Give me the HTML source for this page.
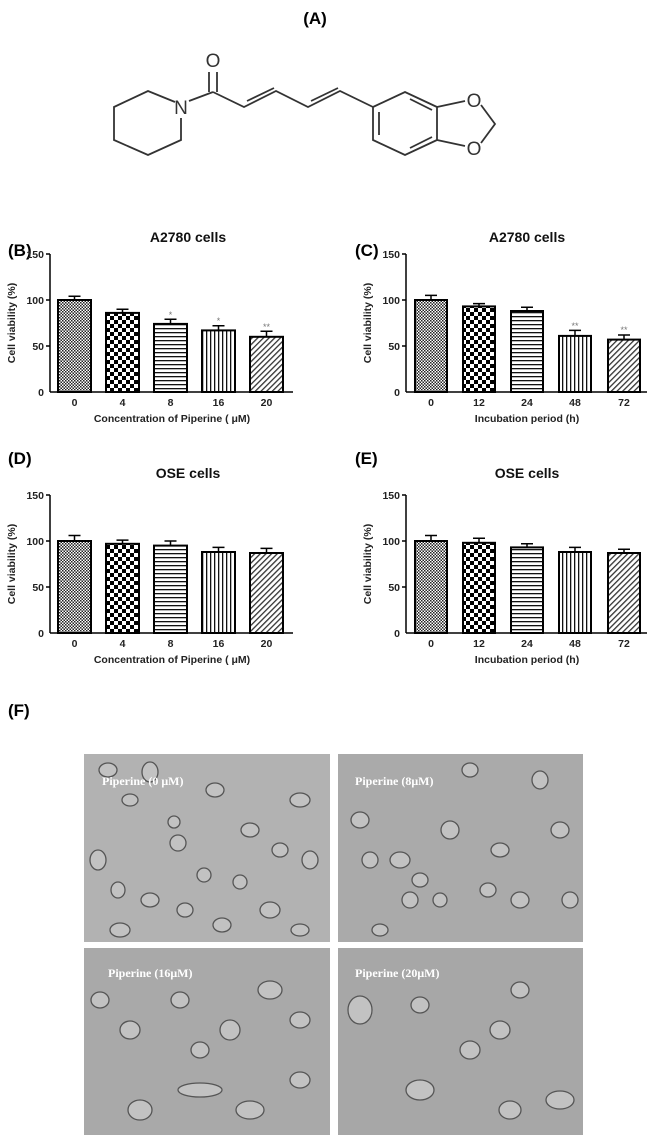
<!DOCTYPE html>
<html><head><meta charset="utf-8"><style>
html,body{margin:0;padding:0;background:#fff;}
svg{display:block;font-family:"Liberation Sans",Arial,sans-serif;}
.pl{font-weight:bold;font-size:17px;fill:#000}
.tt{font-weight:bold;font-size:14px;fill:#111;text-anchor:middle}
.tk{font-weight:bold;font-size:10.5px;fill:#222}
.ax{font-weight:bold;font-size:10.5px;fill:#222;text-anchor:middle}
.st{font-size:9px;fill:#777;text-anchor:middle}
.bar{stroke:#000;stroke-width:2}
.pt{fill:#fff;font-weight:bold;font-size:12px;font-family:"Liberation Serif",serif}
</style></head><body>
<svg width="649" height="1146" viewBox="0 0 649 1146" xmlns="http://www.w3.org/2000/svg">
<defs>
<pattern id="p0" width="3" height="3" patternUnits="userSpaceOnUse"><rect width="3" height="3" fill="#fff"/><rect width="1.5" height="1.5" fill="#222"/><rect x="1.5" y="1.5" width="1.5" height="1.5" fill="#222"/></pattern>
<pattern id="p1" width="8" height="8" patternUnits="userSpaceOnUse"><rect width="8" height="8" fill="#fff"/><rect width="4" height="4" fill="#000"/><rect x="4" y="4" width="4" height="4" fill="#000"/></pattern>
<pattern id="p2" width="4" height="4" patternUnits="userSpaceOnUse"><rect width="4" height="4" fill="#fff"/><rect width="4" height="1.3" fill="#111"/></pattern>
<pattern id="p3" width="4" height="4" patternUnits="userSpaceOnUse"><rect width="4" height="4" fill="#fff"/><rect width="1.3" height="4" fill="#111"/></pattern>
<pattern id="p4" width="4" height="4" patternUnits="userSpaceOnUse" patternTransform="rotate(45)"><rect width="4" height="4" fill="#fff"/><rect width="1.3" height="4" fill="#333"/></pattern>
</defs>

<!-- (A) molecule -->
<text x="315" y="24" class="pl" text-anchor="middle">(A)</text>
<g stroke="#333" stroke-width="1.8" fill="none">
<polyline points="175,102 148,91 114,107 114,140 148,155 181,140 181,118"/>
<line x1="189" y1="101" x2="213" y2="92"/>
<line x1="209" y1="92" x2="209" y2="72"/><line x1="217" y1="92" x2="217" y2="72"/>
<polyline points="213,92 244,107 276,91 308,107 340,91 373,107"/>
<line x1="247" y1="101" x2="274" y2="88"/>
<line x1="311" y1="101" x2="338" y2="88"/>
<polygon points="373,107 405,92 437,107 437,140 405,155 373,140"/>
<line x1="379" y1="112" x2="379" y2="135"/>
<line x1="410" y1="99" x2="432" y2="110"/>
<line x1="410" y1="148" x2="432" y2="137"/>
<line x1="437" y1="107" x2="465" y2="101"/>
<line x1="437" y1="140" x2="465" y2="146"/>
<polyline points="481,105 495,124 481,143"/>
</g>
<g font-size="19" fill="#333" text-anchor="middle">
<text x="181" y="114">N</text><text x="213" y="67">O</text>
<text x="474" y="107">O</text><text x="474" y="155">O</text>
</g>

<!-- Panel labels -->
<text x="8" y="256" class="pl">(B)</text>
<text x="355" y="256" class="pl">(C)</text>
<text x="8" y="464" class="pl">(D)</text>
<text x="355" y="464" class="pl">(E)</text>
<text x="8" y="716" class="pl">(F)</text>

<!-- Chart B -->
<g transform="translate(50,392)">
<text x="138" y="-150" class="tt">A2780 cells</text>
<g class="tk" text-anchor="end"><text x="-6" y="-134">150</text><text x="-6" y="-88">100</text><text x="-6" y="-42">50</text><text x="-6" y="4">0</text></g>
<g stroke="#000" stroke-width="1.5"><line x1="0" y1="-138" x2="0" y2="0"/><line x1="0" y1="0" x2="243" y2="0"/><line x1="-4" y1="-138" x2="0" y2="-138"/><line x1="-4" y1="-92" x2="0" y2="-92"/><line x1="-4" y1="-46" x2="0" y2="-46"/></g>
<rect class="bar" x="8" y="-92" width="33" height="92" fill="url(#p0)"/>
<rect class="bar" x="56" y="-79.1" width="33" height="79.1" fill="url(#p1)"/>
<rect class="bar" x="104" y="-68.1" width="33" height="68.1" fill="url(#p2)"/>
<rect class="bar" x="152" y="-61.6" width="33" height="61.6" fill="url(#p3)"/>
<rect class="bar" x="200" y="-55.2" width="33" height="55.2" fill="url(#p4)"/>
<g stroke="#000" stroke-width="1.5">
<path d="M24.5,-92v-3.7M18.5,-95.7h12"/><path d="M72.5,-79.1v-3.7M66.5,-82.8h12"/><path d="M120.5,-68.1v-4.6M114.5,-72.7h12"/><path d="M168.5,-61.6v-4.6M162.5,-66.2h12"/><path d="M216.5,-55.2v-5.5M210.5,-60.7h12"/></g>
<text x="120.5" y="-74" class="st">*</text><text x="168.5" y="-68" class="st">*</text><text x="216.5" y="-62" class="st">**</text>
<g class="tk" text-anchor="middle"><text x="24.5" y="14">0</text><text x="72.5" y="14">4</text><text x="120.5" y="14">8</text><text x="168.5" y="14">16</text><text x="216.5" y="14">20</text></g>
<text x="122" y="30" class="ax">Concentration of Piperine ( μM)</text>
<text transform="translate(-35,-69) rotate(-90)" class="ax">Cell viability (%)</text>
</g>

<!-- Chart C -->
<g transform="translate(406,392)">
<text x="121" y="-150" class="tt">A2780 cells</text>
<g class="tk" text-anchor="end"><text x="-6" y="-134">150</text><text x="-6" y="-88">100</text><text x="-6" y="-42">50</text><text x="-6" y="4">0</text></g>
<g stroke="#000" stroke-width="1.5"><line x1="0" y1="-138" x2="0" y2="0"/><line x1="0" y1="0" x2="241" y2="0"/><line x1="-4" y1="-138" x2="0" y2="-138"/><line x1="-4" y1="-92" x2="0" y2="-92"/><line x1="-4" y1="-46" x2="0" y2="-46"/></g>
<rect class="bar" x="9" y="-92" width="32" height="92" fill="url(#p0)"/>
<rect class="bar" x="57" y="-85.6" width="32" height="85.6" fill="url(#p1)"/>
<rect class="bar" x="105" y="-81" width="32" height="81" fill="url(#p2)"/>
<rect class="bar" x="153" y="-56.1" width="32" height="56.1" fill="url(#p3)"/>
<rect class="bar" x="202" y="-52.4" width="32" height="52.4" fill="url(#p4)"/>
<g stroke="#000" stroke-width="1.5">
<path d="M25,-92v-4.6M19,-96.6h12"/><path d="M73,-85.6v-2.8M67,-88.4h12"/><path d="M121,-81v-3.7M115,-84.7h12"/><path d="M169,-56.1v-5.5M163,-61.6h12"/><path d="M218,-52.4v-4.6M212,-57h12"/></g>
<text x="169" y="-63" class="st">**</text><text x="218" y="-59" class="st">**</text>
<g class="tk" text-anchor="middle"><text x="25" y="14">0</text><text x="73" y="14">12</text><text x="121" y="14">24</text><text x="169" y="14">48</text><text x="218" y="14">72</text></g>
<text x="121" y="30" class="ax">Incubation period (h)</text>
<text transform="translate(-35,-69) rotate(-90)" class="ax">Cell viability (%)</text>
</g>

<!-- Chart D -->
<g transform="translate(50,633)">
<text x="138" y="-155" class="tt">OSE cells</text>
<g class="tk" text-anchor="end"><text x="-6" y="-134">150</text><text x="-6" y="-88">100</text><text x="-6" y="-42">50</text><text x="-6" y="4">0</text></g>
<g stroke="#000" stroke-width="1.5"><line x1="0" y1="-138" x2="0" y2="0"/><line x1="0" y1="0" x2="243" y2="0"/><line x1="-4" y1="-138" x2="0" y2="-138"/><line x1="-4" y1="-92" x2="0" y2="-92"/><line x1="-4" y1="-46" x2="0" y2="-46"/></g>
<rect class="bar" x="8" y="-92" width="33" height="92" fill="url(#p0)"/>
<rect class="bar" x="56" y="-89.2" width="33" height="89.2" fill="url(#p1)"/>
<rect class="bar" x="104" y="-87.4" width="33" height="87.4" fill="url(#p2)"/>
<rect class="bar" x="152" y="-81" width="33" height="81" fill="url(#p3)"/>
<rect class="bar" x="200" y="-80" width="33" height="80" fill="url(#p4)"/>
<g stroke="#000" stroke-width="1.5">
<path d="M24.5,-92v-5.5M18.5,-97.5h12"/><path d="M72.5,-89.2v-3.7M66.5,-92.9h12"/><path d="M120.5,-87.4v-4.6M114.5,-92h12"/><path d="M168.5,-81v-4.6M162.5,-85.6h12"/><path d="M216.5,-80v-4.6M210.5,-84.6h12"/></g>
<g class="tk" text-anchor="middle"><text x="24.5" y="14">0</text><text x="72.5" y="14">4</text><text x="120.5" y="14">8</text><text x="168.5" y="14">16</text><text x="216.5" y="14">20</text></g>
<text x="122" y="30" class="ax">Concentration of Piperine ( μM)</text>
<text transform="translate(-35,-69) rotate(-90)" class="ax">Cell viability (%)</text>
</g>

<!-- Chart E -->
<g transform="translate(406,633)">
<text x="121" y="-155" class="tt">OSE cells</text>
<g class="tk" text-anchor="end"><text x="-6" y="-134">150</text><text x="-6" y="-88">100</text><text x="-6" y="-42">50</text><text x="-6" y="4">0</text></g>
<g stroke="#000" stroke-width="1.5"><line x1="0" y1="-138" x2="0" y2="0"/><line x1="0" y1="0" x2="241" y2="0"/><line x1="-4" y1="-138" x2="0" y2="-138"/><line x1="-4" y1="-92" x2="0" y2="-92"/><line x1="-4" y1="-46" x2="0" y2="-46"/></g>
<rect class="bar" x="9" y="-92" width="32" height="92" fill="url(#p0)"/>
<rect class="bar" x="57" y="-90.2" width="32" height="90.2" fill="url(#p1)"/>
<rect class="bar" x="105" y="-85.6" width="32" height="85.6" fill="url(#p2)"/>
<rect class="bar" x="153" y="-81" width="32" height="81" fill="url(#p3)"/>
<rect class="bar" x="202" y="-80" width="32" height="80" fill="url(#p4)"/>
<g stroke="#000" stroke-width="1.5">
<path d="M25,-92v-5.5M19,-97.5h12"/><path d="M73,-90.2v-4.6M67,-94.8h12"/><path d="M121,-85.6v-3.7M115,-89.3h12"/><path d="M169,-81v-4.6M163,-85.6h12"/><path d="M218,-80v-3.7M212,-83.7h12"/></g>
<g class="tk" text-anchor="middle"><text x="25" y="14">0</text><text x="73" y="14">12</text><text x="121" y="14">24</text><text x="169" y="14">48</text><text x="218" y="14">72</text></g>
<text x="121" y="30" class="ax">Incubation period (h)</text>
<text transform="translate(-35,-69) rotate(-90)" class="ax">Cell viability (%)</text>
</g>

<!-- (F) micrographs -->
<rect x="84" y="754" width="246" height="188" fill="#b2b2b2"/>
<rect x="338" y="754" width="245" height="188" fill="#aaaaaa"/>
<rect x="84" y="948" width="246" height="187" fill="#a9a9a9"/>
<rect x="338" y="948" width="245" height="187" fill="#a7a7a7"/>
<g fill="#c2c2c2" stroke="#555" stroke-width="1.3">
<ellipse cx="108" cy="770" rx="9" ry="7"/><ellipse cx="150" cy="772" rx="8" ry="10"/><ellipse cx="178" cy="843" rx="8" ry="8"/><ellipse cx="174" cy="822" rx="6" ry="6"/><ellipse cx="150" cy="900" rx="9" ry="7"/><ellipse cx="204" cy="875" rx="7" ry="7"/><ellipse cx="240" cy="882" rx="7" ry="7"/><ellipse cx="250" cy="830" rx="9" ry="7"/><ellipse cx="300" cy="800" rx="10" ry="7"/><ellipse cx="310" cy="860" rx="8" ry="9"/><ellipse cx="120" cy="930" rx="10" ry="7"/><ellipse cx="222" cy="925" rx="9" ry="7"/><ellipse cx="270" cy="910" rx="10" ry="8"/><ellipse cx="98" cy="860" rx="8" ry="10"/>
<ellipse cx="130" cy="800" rx="8" ry="6"/><ellipse cx="215" cy="790" rx="9" ry="7"/><ellipse cx="280" cy="850" rx="8" ry="7"/><ellipse cx="185" cy="910" rx="8" ry="7"/><ellipse cx="118" cy="890" rx="7" ry="8"/><ellipse cx="300" cy="930" rx="9" ry="6"/>
<ellipse cx="360" cy="820" rx="9" ry="8"/><ellipse cx="400" cy="860" rx="10" ry="8"/><ellipse cx="410" cy="900" rx="8" ry="8"/><ellipse cx="450" cy="830" rx="9" ry="9"/><ellipse cx="488" cy="890" rx="8" ry="7"/><ellipse cx="520" cy="900" rx="9" ry="8"/><ellipse cx="560" cy="830" rx="9" ry="8"/><ellipse cx="540" cy="780" rx="8" ry="9"/><ellipse cx="380" cy="930" rx="8" ry="6"/><ellipse cx="470" cy="770" rx="8" ry="7"/>
<ellipse cx="420" cy="880" rx="8" ry="7"/><ellipse cx="440" cy="900" rx="7" ry="7"/><ellipse cx="370" cy="860" rx="8" ry="8"/><ellipse cx="500" cy="850" rx="9" ry="7"/><ellipse cx="570" cy="900" rx="8" ry="8"/>
<ellipse cx="130" cy="1030" rx="10" ry="9"/><ellipse cx="180" cy="1000" rx="9" ry="8"/><ellipse cx="230" cy="1030" rx="10" ry="10"/><ellipse cx="270" cy="990" rx="12" ry="9"/><ellipse cx="250" cy="1110" rx="14" ry="9"/><ellipse cx="140" cy="1110" rx="12" ry="10"/><ellipse cx="300" cy="1080" rx="10" ry="8"/><ellipse cx="200" cy="1090" rx="22" ry="7"/>
<ellipse cx="100" cy="1000" rx="9" ry="8"/><ellipse cx="300" cy="1020" rx="10" ry="8"/><ellipse cx="200" cy="1050" rx="9" ry="8"/>
<ellipse cx="420" cy="1090" rx="14" ry="10"/><ellipse cx="470" cy="1050" rx="10" ry="9"/><ellipse cx="510" cy="1110" rx="11" ry="9"/><ellipse cx="560" cy="1100" rx="14" ry="9"/><ellipse cx="420" cy="1005" rx="9" ry="8"/><ellipse cx="520" cy="990" rx="9" ry="8"/><ellipse cx="500" cy="1030" rx="10" ry="9"/><ellipse cx="360" cy="1010" rx="12" ry="14"/>
</g>
<text x="102" y="785" class="pt">Piperine (0 μM)</text>
<text x="355" y="785" class="pt">Piperine (8μM)</text>
<text x="108" y="977" class="pt">Piperine (16μM)</text>
<text x="355" y="977" class="pt">Piperine (20μM)</text>
</svg>
</body></html>
